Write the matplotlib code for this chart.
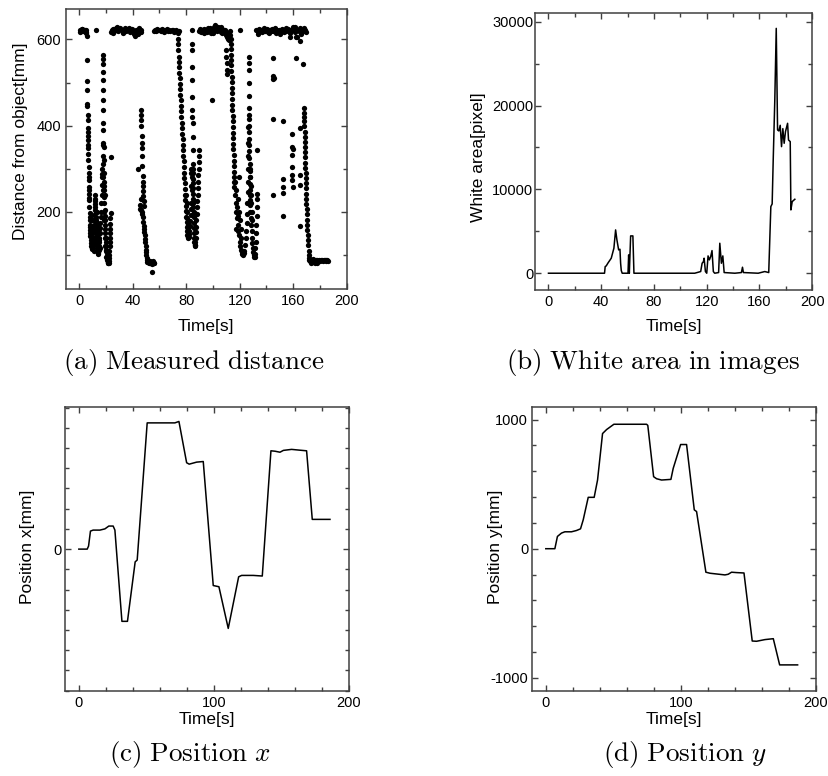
import numpy as np
import matplotlib.pyplot as plt
from matplotlib.ticker import MultipleLocator

plt.rcParams['font.family'] = ['Liberation Sans', 'DejaVu Sans']
plt.rcParams['mathtext.fontset'] = 'cm'
plt.rcParams['axes.unicode_minus'] = False

band_a = [(0.5, 622), (1.0, 617), (1.3, 620), (1.9, 624), (2.3, 625), (2.6, 619), (3.2, 621),
          (3.7, 620), (4.1, 623), (4.8, 621), (5.0, 618), (5.4, 615), (12.4, 622)]
band_b = [(23.6, 618), (24.5, 621), (25.4, 624), (26.3, 620), (27.2, 626), (28.1, 622), (29.0, 619),
          (29.9, 625), (30.8, 627), (31.7, 621), (32.6, 618), (33.5, 623), (34.4, 626), (35.3, 620),
          (36.2, 624), (37.1, 622), (38.0, 617), (38.9, 621), (39.8, 625), (40.7, 619), (41.6, 616),
          (42.5, 623), (43.4, 620), (44.3, 612), (45.2, 618), (46.1, 622), (46.6, 617),
          (25.0, 616), (28.6, 628), (33.0, 614), (37.6, 627), (41.0, 613), (44.8, 626), (41.9, 609)]
band_c = [(55.6, 620), (56.5, 622), (57.4, 619), (58.3, 624), (59.2, 621), (60.1, 623), (61.0, 620),
          (61.9, 625), (62.8, 622), (63.7, 618), (64.6, 621), (65.5, 624), (66.4, 620), (67.3, 622),
          (68.2, 619), (69.1, 623), (70.0, 621), (70.9, 617), (71.8, 620), (72.7, 622), (73.6, 616),
          (74.4, 619)]
band_d = [(89.9, 620), (90.8, 617), (91.7, 623), (92.6, 619), (93.5, 625), (94.4, 621), (95.3, 618),
          (96.2, 624), (97.1, 620), (98.0, 626), (98.9, 622), (99.8, 619), (100.7, 628), (101.6, 633),
          (102.5, 624), (103.4, 620), (104.3, 627), (105.2, 622), (106.1, 618), (107.0, 625),
          (107.9, 620), (108.8, 616), (109.7, 610), (110.6, 605), (111.5, 600), (112.4, 598),
          (90.4, 624), (93.0, 615), (96.7, 627), (100.2, 615), (103.9, 630), (106.6, 616),
          (109.2, 622), (111.0, 616), (112.8, 620), (105.7, 629), (98.4, 614), (120.3, 622)]
band_e = [(132.5, 621), (133.4, 618), (134.3, 624), (135.2, 620), (136.1, 622), (137.0, 617),
          (137.9, 623), (138.8, 619), (139.7, 621), (140.6, 625), (141.5, 618), (142.4, 622),
          (143.3, 620), (144.2, 624), (145.1, 619), (146.0, 621), (146.9, 616), (147.8, 623),
          (148.7, 620), (149.6, 622), (150.5, 618), (151.4, 624), (152.3, 621), (153.2, 617),
          (154.1, 622), (155.0, 620), (155.9, 625), (156.8, 619), (157.7, 606), (158.6, 622),
          (159.5, 628), (160.4, 621), (161.3, 618), (162.2, 623), (163.1, 605), (164.0, 620),
          (164.9, 626), (165.8, 617), (166.7, 622), (167.6, 619), (168.5, 621), (169.4, 618),
          (134.0, 613), (138.0, 627), (142.0, 614), (146.5, 626), (150.0, 613), (154.5, 627),
          (158.0, 615), (161.0, 630), (165.5, 612), (168.0, 626), (160.0, 624), (162.4, 606)]
dip_1 = [(5.6, 607), (5.8, 553), (6.0, 503), (6.1, 482), (6.2, 451), (6.2, 445), (6.3, 424),
         (6.4, 412), (6.5, 395), (6.5, 385), (6.6, 375), (6.7, 366), (6.8, 355), (6.9, 347),
         (7.0, 335), (7.0, 320), (7.1, 305), (7.2, 289), (7.3, 280), (7.3, 273), (7.4, 258),
         (7.5, 250), (7.5, 242), (7.6, 232), (7.7, 227), (7.7, 212), (7.8, 198), (7.9, 188),
         (8.0, 180), (8.1, 170), (8.2, 165), (8.3, 157), (8.4, 150), (8.5, 143), (8.7, 135),
         (8.9, 127), (9.1, 120), (9.3, 116), (9.5, 114), (9.7, 118), (9.9, 124), (10.1, 132),
         (10.3, 140), (10.5, 150), (10.7, 160), (10.9, 170), (11.1, 180), (11.3, 192), (11.5, 205),
         (11.7, 218), (11.9, 230), (12.0, 240), (12.1, 225), (12.2, 212), (12.3, 200), (12.4, 188),
         (12.5, 176), (12.6, 165), (12.8, 155), (13.0, 145), (13.2, 135), (13.4, 125), (13.6, 116),
         (13.8, 108), (14.0, 104), (14.2, 102), (14.4, 106), (14.6, 112), (14.8, 120), (15.0, 130),
         (15.2, 140), (15.4, 150), (15.6, 162), (15.8, 175), (16.0, 188),
         (9.0, 150), (9.4, 140), (9.8, 160), (10.2, 120), (10.6, 125), (11.0, 140), (11.4, 130),
         (11.8, 155), (12.4, 140), (12.9, 180), (13.3, 200), (13.7, 170), (14.1, 150), (14.5, 135),
         (14.9, 160), (15.3, 115), (10.0, 180), (11.2, 110)]
dip_2 = [(16.3, 200), (16.6, 220), (16.9, 240), (17.0, 262), (17.2, 280), (17.3, 300), (17.4, 288),
         (17.5, 310), (17.6, 330), (17.6, 355), (17.7, 360), (17.8, 390), (17.8, 405), (17.9, 436),
         (17.9, 459), (18.0, 482), (18.0, 505), (18.1, 524), (18.1, 544), (18.2, 555), (18.2, 565),
         (18.3, 350), (18.4, 320), (18.5, 290), (18.6, 270), (18.7, 250), (18.8, 235), (18.9, 220),
         (19.0, 205), (19.1, 190), (19.2, 180), (19.3, 170), (19.5, 160), (19.6, 150), (19.8, 140),
         (20.0, 130), (20.2, 120), (20.4, 112), (20.6, 105), (20.8, 98), (21.0, 92), (21.2, 88),
         (21.4, 84), (21.6, 81), (21.8, 80), (22.0, 82), (22.2, 86), (22.4, 92), (22.6, 100),
         (22.7, 110), (22.8, 120), (22.9, 130), (23.0, 140), (23.1, 150), (23.2, 160), (23.3, 172),
         (23.4, 185), (23.5, 198), (23.9, 327),
         (18.6, 180), (19.0, 140), (19.4, 120), (19.8, 110), (20.2, 95), (18.9, 260), (19.2, 240),
         (18.4, 200), (17.9, 250), (17.6, 280)]
dip_3 = [(44.0, 300), (45.5, 206), (45.8, 215), (46.0, 230), (46.1, 413), (46.3, 436), (46.5, 425),
         (46.5, 400), (46.7, 375), (46.8, 360), (47.0, 348), (47.1, 329), (47.3, 306), (47.5, 283),
         (47.6, 270), (47.8, 260), (47.9, 248), (48.0, 237), (48.2, 225), (48.3, 214), (46.4, 205),
         (46.8, 200), (47.2, 195), (47.6, 188), (48.0, 177), (48.3, 168), (48.6, 160), (48.8, 153),
         (49.0, 145), (49.3, 137), (49.5, 130), (49.7, 120), (49.9, 112), (50.0, 107), (50.2, 100),
         (50.4, 92), (50.6, 84), (50.8, 88), (51.2, 83), (51.7, 86), (52.2, 82), (52.7, 85),
         (53.2, 80), (53.7, 84), (54.2, 79), (54.6, 83), (55.1, 86), (55.6, 82), (56.0, 80),
         (54.3, 59)]
dip_4 = [(73.7, 601), (73.9, 590), (74.1, 575), (74.3, 560), (74.5, 548), (74.7, 536), (74.9, 522),
         (75.1, 510), (75.3, 497), (75.5, 485), (75.7, 472), (75.9, 459), (76.1, 446), (76.3, 433),
         (76.5, 420), (76.7, 407), (76.9, 394), (77.1, 381), (77.3, 368), (77.5, 355), (77.7, 343),
         (77.9, 330), (78.1, 317), (78.3, 304), (78.5, 291), (78.7, 278), (78.9, 266), (79.1, 253),
         (79.3, 240), (79.5, 227), (79.7, 214), (79.9, 201), (80.1, 188), (80.3, 176), (80.5, 165),
         (80.7, 155), (80.9, 147), (81.2, 142), (81.5, 140), (81.8, 142), (82.1, 148), (82.4, 156),
         (82.7, 166), (83.0, 178), (83.3, 192), (83.6, 206), (83.9, 220),
         (80.0, 240), (80.3, 220), (80.6, 200), (80.9, 185), (81.2, 170), (81.5, 160),
         (84.3, 621), (84.4, 590), (84.5, 575), (84.5, 536), (84.6, 505), (84.6, 466), (84.7, 436),
         (84.7, 420), (84.8, 405), (84.8, 374), (84.9, 343), (84.9, 312), (85.0, 300), (85.0, 289),
         (85.1, 275), (85.1, 266), (85.2, 255), (85.2, 242), (85.3, 230), (85.3, 220), (85.4, 210),
         (85.5, 200), (85.6, 188), (85.7, 175), (85.8, 162), (85.9, 150), (86.0, 140), (86.1, 130),
         (86.3, 122), (86.5, 120), (86.7, 123), (86.9, 130), (87.1, 140), (87.3, 152), (87.5, 165),
         (87.7, 180), (87.9, 195), (88.1, 210), (88.3, 225), (88.5, 240), (88.7, 255), (88.9, 270),
         (89.1, 285), (89.3, 300), (89.5, 315), (89.7, 330), (89.9, 343),
         (84.0, 260), (84.2, 250), (84.4, 280), (83.6, 300), (84.0, 290)]
dip_5 = [(110.0, 575), (110.1, 560), (110.2, 545), (110.3, 530), (110.4, 520),
         (113.0, 610), (113.2, 600), (113.4, 590), (113.5, 578), (113.6, 565), (113.7, 552),
         (113.8, 540), (113.9, 527), (114.0, 514), (114.1, 501), (114.2, 488), (114.3, 475),
         (114.4, 462), (114.5, 449), (114.6, 436), (114.7, 423), (114.8, 410), (114.9, 397),
         (115.0, 384), (115.1, 371), (115.2, 358), (115.3, 345), (115.4, 332), (115.5, 319),
         (115.6, 306), (115.7, 293), (115.8, 280), (115.9, 268), (116.0, 258), (117.0, 220),
         (118.0, 185), (119.0, 155), (120.0, 130), (121.0, 112), (121.8, 102), (122.5, 100),
         (123.2, 104), (116.5, 270), (117.5, 250), (118.5, 230), (119.2, 280), (119.5, 200),
         (120.2, 180), (120.8, 160), (121.3, 140), (118.2, 210), (119.0, 190), (117.2, 160),
         (116.5, 240), (117.5, 200), (118.5, 170), (119.5, 145), (120.5, 120), (121.5, 106),
         (123.6, 110), (124.0, 122), (124.4, 138), (124.8, 155), (125.2, 175), (125.5, 195),
         (125.8, 220), (126.0, 245), (126.2, 270), (126.4, 300), (126.5, 330), (126.6, 360),
         (126.6, 397), (126.8, 559), (126.8, 545), (126.8, 530), (126.9, 500), (126.9, 468),
         (127.0, 440), (127.0, 425), (127.0, 415), (127.1, 400), (127.1, 385), (127.2, 370),
         (127.2, 355), (127.3, 340), (127.3, 325), (127.4, 310), (127.4, 295), (127.5, 280),
         (127.5, 265), (127.6, 250), (127.6, 240), (127.7, 228), (127.8, 215), (128.0, 200),
         (128.3, 185), (128.6, 170), (128.9, 155), (129.2, 140), (129.5, 128), (129.8, 116),
         (130.1, 106), (130.4, 99), (130.8, 95), (131.1, 96), (131.5, 102), (131.8, 115),
         (132.0, 130), (132.2, 150), (132.4, 170), (132.6, 190), (132.8, 210), (133.0, 230),
         (133.2, 242), (133.3, 344), (128.2, 240), (128.5, 260), (128.8, 220), (129.1, 200),
         (129.5, 180), (128.0, 280), (127.9, 300), (99.6, 459)]
scatter_late = [(145.2, 558), (145.0, 515), (145.3, 511), (145.2, 508), (145.2, 415), (145.2, 238),
                (152.6, 411), (152.6, 275), (152.6, 258), (152.6, 243), (152.6, 190), (159.4, 380),
                (159.4, 350), (159.6, 345), (159.4, 331), (159.4, 304), (159.4, 285), (159.4, 273),
                (159.6, 258), (162.4, 558), (164.9, 596), (164.9, 394), (164.9, 285), (164.9, 262),
                (164.9, 167), (167.4, 543)]
dip_end = [(168.0, 442), (168.1, 430), (168.2, 420), (168.3, 410), (168.4, 398), (168.5, 386),
           (168.6, 374), (168.7, 362), (168.8, 350), (168.9, 338), (169.0, 326), (169.1, 314),
           (169.2, 302), (169.3, 290), (169.4, 278), (169.5, 266), (169.6, 254), (169.7, 242),
           (169.8, 230), (169.9, 218), (170.0, 206), (170.1, 194), (170.3, 182), (170.5, 170),
           (170.7, 158), (170.9, 146), (171.1, 134), (171.3, 122), (171.5, 110), (171.7, 100),
           (171.9, 92), (172.1, 88),
           (172.3, 85), (173.0, 88), (173.7, 84), (174.4, 87), (175.1, 90), (175.8, 86), (176.5, 83),
           (177.2, 88), (177.9, 87), (178.6, 85), (179.3, 89), (180.0, 86), (180.7, 88), (181.4, 87),
           (182.1, 85), (182.8, 88), (183.5, 87), (184.2, 86), (184.9, 88), (185.6, 87), (186.3, 86),
           (173.4, 80), (176.0, 82), (178.0, 82)]

# --- (b) white area [pixel] ---
area_t = [0, 42.5, 43, 43.8, 45, 47.6, 49.6, 50.9, 51.9, 53.2, 54.2, 54.7, 55.2, 55.9, 60.3, 60.8,
          61.3, 62.3, 64, 64.8, 110.9, 115.4, 116.5, 117.5, 118, 119, 120, 121, 122, 123, 124, 125,
          126, 129, 129.9, 131.1, 132.2, 133.2, 141.3, 146.3, 147.1, 147.8, 159, 164, 167, 168.6,
          169.6, 170.4, 171.6, 172.7, 173.7, 174.7, 175.7, 176.7, 177.7, 178.7, 179.7, 181.3, 182,
          183.3, 183.8, 184.8, 186.8]
area_v = [0, 0, 795, 875, 1190, 1790, 2980, 5165, 3970, 2780, 2860, 1190, 320, 0, 0, 2185,
          0, 4450, 4450, 0, 0, 200, 1190, 1390, 1790, 200, 0, 2065, 1590, 1990, 2700, 200,
          0, 80, 3575, 1190, 2065, 80, 0, 80, 715, 80, 0, 200, 80, 7946,
          8264, 13508, 20660, 29200, 17083, 16965, 17640, 15097, 17243, 15495, 16886, 17878, 15892,
          15694, 7549, 8542, 8820]

# --- (c) position x [mm] ---
posx_t = [0, 6.2, 7.2, 8.6, 10.6, 15.6, 19.3, 22.2, 25.4, 26.7, 31.9, 36, 41.7, 43.2, 50.6, 71.1,
          74.1, 79.8, 81.7, 87.2, 92.1, 99.5, 103.7, 110.6, 118.3, 120.5, 129.1, 135.8, 142.2, 145.2,
          148.9, 151.4, 157.5, 163.7, 168.6, 172.8, 185.9]
posx_v = [0, 0, 15, 89, 94, 94, 100, 114, 114, 94, -357, -357, -63, -54, 624, 624,
          631, 427, 420, 430, 433, -180, -186, -392, -137, -130, -130, -133, 486, 484,
          479, 488, 493, 489, 486, 147, 147]

# --- (d) position y [mm] ---
posy_t = [0, 6.7, 8.6, 11.6, 14.1, 19, 22.7, 25.7, 27.7, 31.4, 35.8, 38.3, 42, 45, 50.4, 74.6,
          75.5, 79.8, 82, 85.7, 92.6, 94.3, 99.8, 104.2, 109.9, 111.6, 118.5, 121.5, 132.6, 135,
          137.5, 141.2, 146.7, 152.8, 156, 162.2, 168.4, 173.1, 186.4]
posy_v = [0, 0, 95, 121, 131, 131, 141, 154, 224, 398, 398, 532, 892, 923, 964, 964,
          955, 558, 542, 532, 537, 622, 807, 807, 301, 288, -182, -190, -203, -198,
          -182, -185, -188, -715, -717, -704, -697, -900, -900]

SPINE = '#404040'


def style_axes(ax, xmaj, xmin, ymaj, ymin, ypad=3.5):
    ax.xaxis.set_major_locator(MultipleLocator(xmaj))
    ax.xaxis.set_minor_locator(MultipleLocator(xmin))
    ax.yaxis.set_major_locator(MultipleLocator(ymaj))
    ax.yaxis.set_minor_locator(MultipleLocator(ymin))
    ax.tick_params(which='both', direction='in', top=True, right=True, color=SPINE, width=1)
    ax.tick_params(which='major', length=4, labelsize=10.5)
    ax.tick_params(which='minor', length=3)
    ax.tick_params(axis='y', pad=ypad)
    for s in ax.spines.values():
        s.set_color(SPINE)
        s.set_linewidth(1.1)


fig = plt.figure(figsize=(8.29, 7.76), dpi=100)

ax_a = fig.add_axes([0.0793, 0.6272, 0.3389, 0.3608])
ax_b = fig.add_axes([0.6457, 0.6263, 0.3341, 0.3566])
ax_c = fig.add_axes([0.0788, 0.1099, 0.3422, 0.3660])
ax_d = fig.add_axes([0.6421, 0.1099, 0.3422, 0.3660])

for seg in [band_a, band_b, band_c, band_d, band_e, dip_1, dip_2, dip_3, dip_4, dip_5,
            scatter_late, dip_end]:
    pts = np.array(seg)
    ax_a.plot(pts[:, 0], pts[:, 1], 'o', color='black', ms=3.8, mew=0)
ax_a.set_xlim(-10, 200)
ax_a.set_ylim(20, 670)
style_axes(ax_a, 40, 20, 200, 100)
ax_a.set_xlabel('Time[s]', fontsize=12.5)
ax_a.set_ylabel('Distance from object[mm]', fontsize=12.5)
ax_a.xaxis.set_label_coords(0.5, -0.106)
ax_a.yaxis.set_label_coords(-0.134, 0.53)

ax_b.plot(area_t, area_v, color='black', lw=1.1)
ax_b.set_xlim(-10, 200)
ax_b.set_ylim(-2000, 31000)
style_axes(ax_b, 40, 20, 10000, 5000, ypad=1.5)
ax_b.set_xlabel('Time[s]', fontsize=12.5)
ax_b.set_ylabel('White area[pixel]', fontsize=12.5)
ax_b.xaxis.set_label_coords(0.5, -0.106)
ax_b.yaxis.set_label_coords(-0.178, 0.479)

ax_c.plot(posx_t, posx_v, color='black', lw=1.1)
ax_c.set_xlim(-10, 200)
ax_c.set_ylim(-700, 704)
style_axes(ax_c, 100, 20, 1000, 100, ypad=2.5)
ax_c.set_xlabel('Time[s]', fontsize=12.5)
ax_c.set_ylabel('Position x[mm]', fontsize=12.5)
ax_c.xaxis.set_label_coords(0.5, -0.075)
ax_c.yaxis.set_label_coords(-0.107, 0.507)

ax_d.plot(posy_t, posy_v, color='black', lw=1.1)
ax_d.set_xlim(-10, 200)
ax_d.set_ylim(-1100, 1100)
style_axes(ax_d, 100, 20, 1000, 200, ypad=3)
ax_d.set_xlabel('Time[s]', fontsize=12.5)
ax_d.set_ylabel('Position y[mm]', fontsize=12.5)
ax_d.xaxis.set_label_coords(0.5, -0.075)
ax_d.yaxis.set_label_coords(-0.103, 0.507)

cap = dict(ha='center', va='center', fontsize=19.5)
fig.text(194 / 829, 1 - 363 / 776, r'$\mathrm{(a)\ Measured\ distance}$', **cap)
fig.text(653 / 829, 1 - 363 / 776, r'$\mathrm{(b)\ White\ area\ in\ images}$', **cap)
fig.text(190 / 829, 1 - 755 / 776, r'$\mathrm{(c)\ Position}\ x$', **cap)
fig.text(685 / 829, 1 - 755 / 776, r'$\mathrm{(d)\ Position}\ y$', **cap)

fig.savefig('out.png', dpi=100)
